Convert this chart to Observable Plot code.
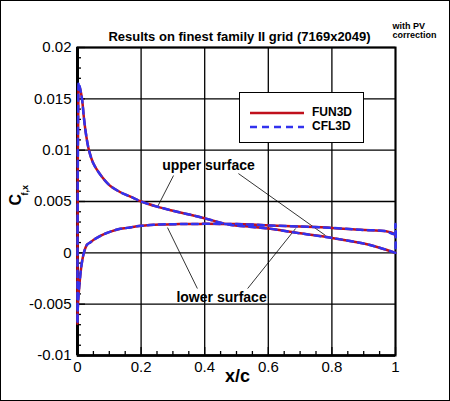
<!DOCTYPE html>
<html>
<head>
<meta charset="utf-8">
<script src="https://cdn.jsdelivr.net/npm/d3@7"></script>
<script src="https://cdn.jsdelivr.net/npm/@observablehq/plot@0.6"></script>
<style>
  html, body { margin: 0; padding: 0; background: white; }
  #wrap { position: relative; width: 450px; height: 401px; overflow: hidden; }
  #border { position: absolute; left: 0; top: 0; width: 448px; height: 399px; border: 1px solid black; pointer-events: none; }
  #legend { position: absolute; left: 239px; top: 92px; width: 123px; height: 49px; border: 1px solid black; background: white; }
  #legend .row { position: absolute; left: 0; height: 14px; }
  #legend svg { position: absolute; left: 10px; top: 0; }
  #legend span { position: absolute; left: 72px; top: -1px; font: bold 12px "Liberation Sans", Arial, sans-serif; white-space: nowrap; }
</style>
</head>
<body>
<div id="wrap">
  <div id="chart"></div>
  <div id="legend">
    <div class="row" style="top:13px"><svg width="56" height="14"><line x1="0" x2="54" y1="7" y2="7" stroke="#c0101c" stroke-width="2.5"/></svg><span>FUN3D</span></div>
    <div class="row" style="top:27px"><svg width="56" height="14"><line x1="0" x2="54" y1="7" y2="7" stroke="#3232ee" stroke-width="2.5" stroke-dasharray="7,5"/></svg><span>CFL3D</span></div>
  </div>
  <div id="border"></div>
</div>
<script>
// ---- data ----
const xTicks = [0, 0.2, 0.4, 0.6, 0.8, 1];
const yTicks = [-0.01, -0.005, 0, 0.005, 0.01, 0.015, 0.02];
const xMinorTicks = [0.05,0.1,0.15,0.25,0.3,0.35,0.45,0.5,0.55,0.65,0.7,0.75,0.85,0.9,0.95];
const yMinorTicks = [-0.009,-0.008,-0.007,-0.006,-0.004,-0.003,-0.002,-0.001,0.001,0.002,0.003,0.004,0.006,0.007,0.008,0.009,0.011,0.012,0.013,0.014,0.016,0.017,0.018,0.019];

// lower surface (x increasing from leading edge)
const lowerX      = [0, 0.001, 0.0035, 0.0063, 0.0126, 0.02, 0.03, 0.041, 0.051, 0.075, 0.104, 0.135, 0.156, 0.2, 0.26, 0.32, 0.387, 0.45, 0.5, 0.55, 0.607, 0.7, 0.8, 0.89, 0.97, 0.995];
const lowerFUN3D  = [-0.0069, -0.0053, -0.0041, -0.003, -0.0012, 0.0, 0.0008, 0.00103, 0.00127, 0.0017, 0.00207, 0.00234, 0.00243, 0.00263, 0.00276, 0.0028, 0.00282, 0.00282, 0.0028, 0.00275, 0.00266, 0.00256, 0.00243, 0.00224, 0.0021, 0.00185];
const lowerCFL3D  = [-0.0069, -0.0053, -0.0041, -0.003, -0.0012, 0.0, 0.0008, 0.00103, 0.00127, 0.0017, 0.00207, 0.00234, 0.00243, 0.00263, 0.00276, 0.0028, 0.00282, 0.00282, 0.0028, 0.00275, 0.00266, 0.00256, 0.00243, 0.00224, 0.0021, 0.00185];
// upper surface (x increasing from leading edge)
const upperX      = [0.0003, 0.001, 0.0025, 0.004, 0.007, 0.011, 0.015, 0.02, 0.027, 0.036, 0.05, 0.072, 0.1, 0.135, 0.172, 0.2, 0.25, 0.3, 0.387, 0.475, 0.55, 0.607, 0.7, 0.8, 0.9, 0.95, 1.0];
const upperFUN3D  = [0.002, 0.009, 0.0145, 0.0163, 0.0161, 0.0156, 0.0148, 0.0132, 0.0115, 0.0100, 0.0087, 0.0076, 0.0066, 0.0059, 0.0054, 0.0050, 0.0045, 0.0041, 0.00347, 0.00276, 0.00252, 0.00234, 0.0019, 0.00145, 0.0009, 0.0005, 0.0];
const upperCFL3D  = [0.002, 0.009, 0.0148, 0.0166, 0.0162, 0.0156, 0.0148, 0.0132, 0.0115, 0.0100, 0.0087, 0.0076, 0.0066, 0.0059, 0.0054, 0.0050, 0.0045, 0.0041, 0.00347, 0.00276, 0.00252, 0.00234, 0.0019, 0.00145, 0.0009, 0.0005, 0.0];
// trailing-edge closure points
const teX     = [1.0, 1.0];
const teFUN3D = [0.0016, 0.0016];
const teCFL3D = [0.0028, 0.0];

const titleText = "Results on finest family II grid (7169x2049)";
const noteText = "with PV\ncorrection";
const annoLabels = ["upper surface", "lower surface"];
const annoX = [0.412, 0.453];
const annoY = [0.0085, -0.00435];
// leader lines: label end -> curve
const leaderX1 = [0.302, 0.506, 0.377, 0.535];
const leaderY1 = [0.00753, 0.00772, -0.00348, -0.00348];
const leaderX2 = [0.252, 0.780, 0.283, 0.686];
const leaderY2 = [0.00451, 0.00169, 0.00246, 0.00237];

// ---- build tables ----
function path(lx, ly, ux, uy, tx, ty) {
  const pts = [];
  for (let i = ux.length - 1; i >= 0; i--) pts.push({x: ux[i], y: uy[i]});
  for (let i = 0; i < lx.length; i++) pts.push({x: lx[i], y: ly[i]});
  for (let i = 0; i < tx.length; i++) pts.push({x: tx[i], y: ty[i]});
  return pts;
}
const fun3d = path(lowerX, lowerFUN3D, upperX, upperFUN3D, teX, teFUN3D);
const cfl3d = path(lowerX, lowerCFL3D, upperX, upperCFL3D, teX, teCFL3D);
const annos = annoLabels.map((t, i) => ({t, x: annoX[i], y: annoY[i]}));
const leaders = leaderX1.map((d, i) => ({x1: d, y1: leaderY1[i], x2: leaderX2[i], y2: leaderY2[i]}));

const fmt = d => String(+d.toFixed(3));

const chart = Plot.plot({
  width: 450, height: 401,
  marginLeft: 77, marginRight: 55, marginTop: 47, marginBottom: 46,
  x: {domain: [0, 1]},
  y: {domain: [-0.01, 0.02]},
  style: {fontFamily: "'Liberation Sans', Arial, Helvetica, sans-serif", fontSize: "15px", background: "white", color: "black"},
  marks: [
    Plot.gridX(xTicks, {stroke: "black", strokeOpacity: 1, strokeWidth: 1.3}),
    Plot.gridY(yTicks, {stroke: "black", strokeOpacity: 1, strokeWidth: 1.3}),
    Plot.axisX(xMinorTicks, {tickSize: -4, text: null, strokeWidth: 1.3}),
    Plot.axisX(xTicks, {tickSize: -8, text: null, strokeWidth: 1.3}),
    Plot.axisX(xTicks, {tickSize: 0, tickPadding: 6, tickFormat: fmt, label: null, fontSize: 15}),
    Plot.axisY(yMinorTicks, {tickSize: -4, text: null, strokeWidth: 1.3}),
    Plot.axisY(yTicks, {tickSize: -8, text: null, strokeWidth: 1.3}),
    Plot.axisY(yTicks, {tickSize: 0, tickPadding: 6, tickFormat: fmt, label: null, fontSize: 15}),
    Plot.frame({stroke: "black", strokeWidth: 2}),
    Plot.ruleX([0], {stroke: "black", strokeWidth: 3}),
    Plot.ruleY([-0.01], {stroke: "black", strokeWidth: 2.5}),
    Plot.link(leaders, {x1: "x1", y1: "y1", x2: "x2", y2: "y2", stroke: "black", strokeWidth: 0.8}),
    Plot.line(fun3d, {x: "x", y: "y", stroke: "#c0101c", strokeWidth: 2.5, curve: "catmull-rom"}),
    Plot.line(cfl3d, {x: "x", y: "y", stroke: "#3232ee", strokeWidth: 2.5, strokeDasharray: "6,5", curve: "catmull-rom"}),
    Plot.text(annos, {x: "x", y: "y", text: "t", fontWeight: "bold", fontSize: 14, fill: "black"}),
    Plot.text([titleText], {text: d => d, frameAnchor: "top", dy: -16, dx: 3, fontWeight: "bold", fontSize: 13}),
    Plot.text([noteText], {text: d => d, frameAnchor: "top-right", dx: -3, dy: -25, textAnchor: "start", lineAnchor: "top", lineHeight: 1, fontSize: 9, fontWeight: "bold"}),
    Plot.text(["x/c"], {text: d => d, frameAnchor: "bottom", dy: 26, dx: 1, fontSize: 18, fontWeight: "bold"}),
    Plot.text(["C"], {text: d => d, frameAnchor: "left", dx: -62, dy: 4, rotate: -90, fontSize: 16, fontWeight: "bold"}),
    Plot.text(["f,x"], {text: d => d, frameAnchor: "left", dx: -52, dy: -6, rotate: -90, fontSize: 9, fontWeight: "bold"})
  ]
});
document.getElementById("chart").append(chart);
</script>
</body>
</html>
